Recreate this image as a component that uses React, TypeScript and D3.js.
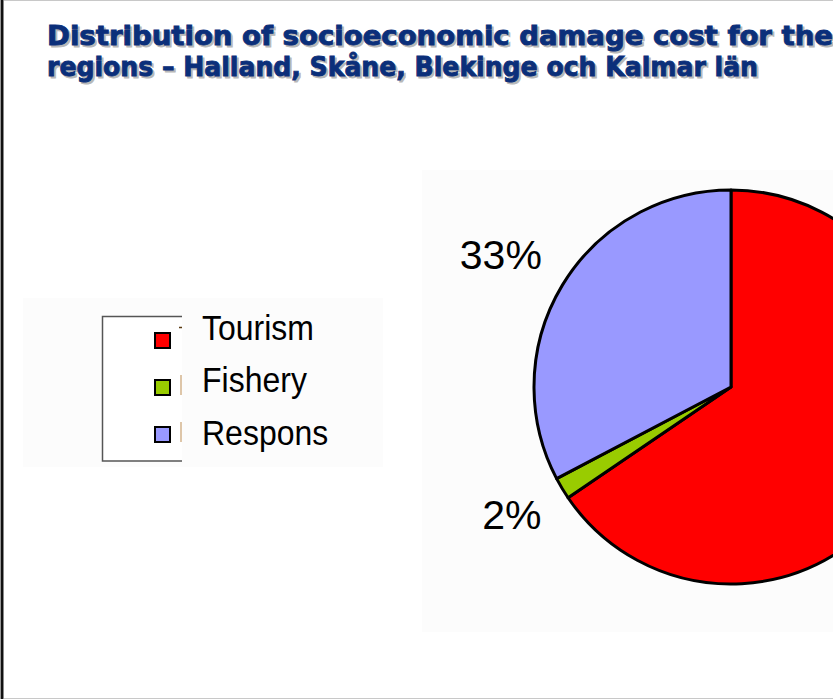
import React from 'react';
import * as d3 from 'd3';

const categories = ['Tourism', 'Fishery', 'Respons'];
const values = [65.5, 1.8, 32.7];
const colors = ['#ff0000', '#99cc00', '#9999ff'];
const titleLines = [
  'Distribution of socioeconomic damage cost for the',
  'regions – Halland, Skåne, Blekinge och Kalmar län',
];
const titleLengths = [786, 711];

const W = 833;
const H = 699;
const cx = 731;
const cy = 387;
const R = 197;
const LABEL_R = 221;
const LABEL_FS = 41;

export default function App() {
  const pie = d3.pie<number>().sort(null).startAngle(0).endAngle(2 * Math.PI);
  const arcs = pie(values);
  const arc = d3.arc<d3.PieArcDatum<number>>().innerRadius(0).outerRadius(R);
  const labelArc = d3.arc<d3.PieArcDatum<number>>().innerRadius(LABEL_R).outerRadius(LABEL_R);
  const total = d3.sum(values);

  const swatchY = d3.scalePoint<string>().domain(categories).range([332, 426]);
  const textY = d3.scalePoint<string>().domain(categories).range([340, 445]);

  return (
    <svg width={W} height={H} style={{ position: 'absolute', left: 0, top: 0, background: '#fff' }}>
      <rect x={0} y={0} width={W} height={H} fill="#ffffff" />
      {/* frame */}
      <line x1={0} y1={0.5} x2={W} y2={0.5} stroke="#c8c8c8" strokeWidth={1} />
      <line x1={0} y1={698.5} x2={W} y2={698.5} stroke="#c8c8c8" strokeWidth={1} />
      <rect x={0} y={0} width={1} height={H} fill="#9a9a9a" />
      <rect x={1} y={0} width={2} height={H} fill="#111" />
      <rect x={3} y={0} width={1} height={H} fill="#8a8a8a" />

      {/* faint background panels */}
      <rect x={23} y={298} width={360} height={169} fill="#fcfcfc" />
      <rect x={422} y={170} width={W - 422} height={462} fill="#fcfcfc" />

      {/* title */}
      <g fontFamily="'DejaVu Sans', sans-serif" fontWeight="bold" fontSize={26.5}>
        {titleLines.map((t, i) => (
          <text
            key={'s' + i}
            x={49}
            y={47 + i * 31}
            fill="#b8b8b8"
            stroke="#b8b8b8"
            strokeWidth={0.9}
            textLength={titleLengths[i]}
            lengthAdjust="spacingAndGlyphs"
          >
            {t}
          </text>
        ))}
        {titleLines.map((t, i) => (
          <text
            key={'t' + i}
            x={47}
            y={45 + i * 31}
            fill="#0b2f7a"
            stroke="#0b2f7a"
            strokeWidth={0.9}
            textLength={titleLengths[i]}
            lengthAdjust="spacingAndGlyphs"
          >
            {t}
          </text>
        ))}
      </g>

      {/* legend */}
      <rect x={102} y={316} width={80} height={145} fill="#ffffff" />
      <path d="M182,316.5 H102.5 V461 H182" fill="none" stroke="#555" strokeWidth={1.5} />
      {categories.map((c, i) => (
        <g key={c}>
          <rect x={155} y={swatchY(c)! + 1} width={15} height={15} fill={colors[i]} stroke="#000" strokeWidth={2} />
          {i === 0 ? (
            <line x1={179} x2={182} y1={swatchY(c)! - 4.5} y2={swatchY(c)! - 4.5} stroke="#5a3a10" strokeWidth={1.5} />
          ) : (
            <line x1={181} x2={181} y1={swatchY(c)! - 4} y2={swatchY(c)! + 16} stroke="#c8a070" strokeWidth={1.2} />
          )}
          <text
            x={202}
            y={textY(c)!}
            fontFamily="'Liberation Sans', Arial, sans-serif"
            fontSize={32}
            fill="#000"
            transform={`translate(0 ${textY(c)!}) scale(1 1.12) translate(0 ${-textY(c)!})`}
          >
            {c}
          </text>
        </g>
      ))}

      {/* pie */}
      <g transform={`translate(${cx},${cy})`}>
        {arcs.map((a, i) => (
          <path key={i} d={arc(a)!} fill={colors[i]} stroke="#000" strokeWidth={3} strokeLinejoin="round" />
        ))}
        {arcs.map((a, i) => {
          const [px, py] = labelArc.centroid(a);
          const left = px < 0;
          if (!left && cx + px > W) return null; // label lies outside the visible canvas
          const upper = py < 0;
          const y = upper ? py - 0.08 * LABEL_FS : py + 0.68 * LABEL_FS;
          return (
            <text
              key={'l' + i}
              x={px}
              y={y}
              textAnchor={left ? 'end' : 'start'}
              fontFamily="'Liberation Sans', Arial, sans-serif"
              fontSize={LABEL_FS}
              fill="#000"
            >
              {`${Math.round((values[i] / total) * 100)}%`}
            </text>
          );
        })}
      </g>
    </svg>
  );
}
